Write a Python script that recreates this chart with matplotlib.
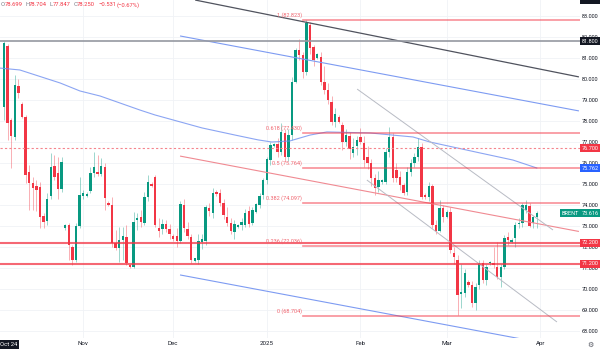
import numpy as np
import matplotlib.pyplot as plt
from matplotlib.transforms import blended_transform_factory

plt.rcParams['font.family'] = ['Roboto', 'DejaVu Sans']

# daily BRENT bars from 7 Oct 2024 to 31 Mar 2025 (short Sunday sessions included)
opens = [78.65, 81.55, 78.05, 77.25, 79.67, 78.81, 78.20, 75.59, 75.06, 74.90,
         74.87, 73.48, 73.25, 74.44, 75.86, 75.51, 74.75, 72.89, 73.05, 71.98,
         71.38, 73.00, 74.44, 74.45, 74.68, 75.51, 75.59, 75.48, 75.83, 74.11,
         74.00, 72.17, 71.95, 72.33, 72.46, 71.14, 71.03, 73.28, 73.45, 73.16,
         74.40, 75.00, 75.35, 72.89, 72.85, 73.10, 72.84, 72.52, 72.52, 72.30,
         74.00, 72.84, 72.46, 71.35, 71.38, 72.25, 72.30, 73.84, 73.63, 74.63,
         74.55, 74.08, 73.41, 73.13, 72.73, 72.95, 73.05, 73.05, 73.73, 73.13,
         73.68, 74.00, 74.48, 75.19, 76.14, 76.81, 76.90, 76.54, 77.41, 76.30,
         77.33, 79.87, 81.38, 81.14, 80.35, 82.57, 81.54, 80.99, 81.06, 79.87,
         79.48, 78.92, 77.97, 78.20, 77.81, 77.02, 77.29, 76.46, 76.81, 77.25,
         76.97, 76.30, 75.98, 75.27, 74.87, 75.10, 75.11, 76.54, 77.25, 75.67,
         75.35, 74.95, 74.63, 75.59, 75.98, 76.30, 76.78, 74.48, 74.40, 74.90,
         73.05, 72.78, 73.84, 73.44, 73.68, 71.70, 71.38, 69.75, 69.79, 70.35,
         70.19, 69.32, 70.19, 71.22, 70.43, 71.22, 71.25, 71.06, 70.59, 71.06,
         72.49, 72.25, 72.41, 73.10, 73.13, 73.76, 73.95, 73.13, 73.44]
highs = [81.80, 81.65, 78.15, 80.19, 79.98, 78.90, 78.30, 75.90, 75.35, 75.20,
         75.10, 73.63, 74.56, 76.46, 76.40, 76.30, 76.30, 73.10, 73.13, 72.10,
         73.13, 75.35, 74.70, 74.60, 75.83, 76.54, 76.38, 76.22, 75.99, 74.20,
         74.40, 72.80, 72.96, 72.96, 73.05, 71.20, 73.68, 73.60, 73.75, 74.60,
         75.43, 75.10, 75.45, 73.40, 73.35, 73.30, 73.10, 72.60, 72.90, 74.20,
         74.30, 73.20, 72.60, 71.50, 72.60, 72.60, 74.00, 74.10, 74.80, 74.70,
         74.75, 74.30, 73.90, 73.40, 73.30, 73.10, 73.40, 73.80, 73.95, 73.90,
         74.10, 74.55, 75.30, 76.30, 77.00, 76.95, 77.20, 77.90, 77.60, 77.60,
         80.10, 81.50, 81.90, 81.30, 82.823, 82.70, 81.60, 81.25, 81.30, 80.60,
         79.80, 79.20, 78.60, 78.30, 77.95, 77.60, 77.50, 77.20, 77.30, 77.65,
         77.30, 76.80, 76.20, 75.50, 75.60, 75.25, 76.70, 77.73, 77.45, 76.00,
         75.60, 75.05, 75.80, 76.20, 76.50, 77.17, 76.95, 74.55, 75.10, 75.00,
         73.30, 74.24, 74.00, 73.75, 73.90, 72.00, 71.60, 71.20, 70.95, 70.45,
         70.40, 70.30, 71.38, 71.40, 71.20, 71.35, 72.00, 72.25, 71.20, 72.55,
         72.70, 72.45, 73.20, 73.40, 74.10, 74.24, 74.10, 73.50, 73.70]
lows = [78.05, 77.10, 75.75, 77.10, 79.08, 78.15, 75.03, 73.76, 73.76, 73.70,
        72.89, 72.89, 73.05, 74.30, 75.20, 74.30, 74.62, 72.80, 71.38, 71.14,
        71.30, 72.90, 74.30, 74.40, 74.55, 75.35, 75.40, 75.40, 73.76, 73.95,
        72.01, 71.86, 71.30, 71.38, 71.14, 70.98, 70.98, 72.80, 72.95, 73.05,
        74.20, 74.85, 72.95, 72.50, 72.60, 72.70, 72.40, 72.30, 72.00, 72.20,
        72.70, 72.40, 71.22, 71.30, 71.20, 71.90, 72.10, 73.50, 73.40, 74.45,
        73.95, 73.35, 73.00, 72.60, 72.40, 72.90, 72.80, 72.95, 72.95, 73.05,
        73.60, 73.85, 74.30, 75.00, 75.90, 76.75, 76.30, 76.40, 76.10, 76.10,
        77.10, 79.80, 80.90, 80.03, 80.20, 81.20, 80.60, 80.95, 79.70, 79.30,
        78.80, 77.80, 77.70, 77.90, 76.60, 76.80, 76.20, 76.30, 76.40, 76.90,
        75.80, 75.70, 74.90, 74.50, 74.60, 75.00, 75.00, 76.30, 75.10, 75.10,
        74.70, 74.50, 74.50, 75.40, 75.80, 76.10, 74.30, 74.30, 74.20, 72.90,
        72.60, 72.70, 73.20, 73.40, 71.70, 71.20, 68.76, 69.10, 69.60, 70.10,
        69.16, 69.00, 70.00, 70.30, 70.20, 71.15, 71.00, 70.50, 70.10, 70.95,
        72.10, 72.20, 72.00, 72.90, 72.95, 73.60, 72.95, 72.90, 72.90]
closes = [81.70, 77.90, 77.28, 79.70, 79.35, 78.20, 75.43, 75.03, 74.79, 74.71,
          73.44, 73.20, 74.27, 75.79, 75.35, 74.75, 76.06, 73.05, 72.09, 71.38,
          73.00, 74.47, 74.55, 74.52, 75.51, 75.83, 75.48, 75.86, 74.32, 74.02,
          72.17, 71.93, 72.33, 72.54, 71.22, 71.03, 73.20, 73.40, 73.20, 74.40,
          75.11, 74.90, 73.05, 72.78, 73.10, 72.85, 72.62, 72.36, 72.30, 74.05,
          72.89, 72.52, 71.38, 71.47, 72.30, 72.36, 73.89, 73.70, 74.59, 74.52,
          74.08, 73.52, 73.13, 72.76, 73.09, 73.03, 73.17, 73.63, 73.09, 73.76,
          74.05, 74.43, 75.19, 76.17, 76.86, 76.90, 76.54, 77.49, 76.30, 77.35,
          79.87, 81.38, 81.14, 80.35, 82.65, 81.46, 80.90, 81.19, 79.87, 79.48,
          79.00, 77.97, 78.33, 77.95, 77.02, 77.33, 76.65, 76.75, 77.10, 77.02,
          76.14, 75.98, 75.27, 74.79, 75.19, 75.19, 76.54, 77.25, 75.27, 75.27,
          74.95, 74.56, 75.59, 75.98, 76.30, 76.78, 74.40, 74.37, 74.90, 73.05,
          72.78, 73.84, 73.45, 73.68, 71.86, 71.54, 69.71, 69.85, 70.75, 70.20,
          69.32, 70.10, 71.22, 70.43, 71.06, 71.30, 71.14, 70.59, 71.06, 72.41,
          72.33, 72.33, 73.05, 73.13, 74.00, 74.00, 73.00, 73.44, 73.616]

# bar index of the first session of each month
month_pos = [22, 47, 73, 99, 123, 149]
month_labels = ["Nov", "Dec", "2025", "Feb", "Mar", "Apr"]
price_ticks = list(range(68, 84))

fib_ratios = ["1", "0.618", "0.5", "0.382", "0.236", "0"]
fib_prices = [82.823, 77.430, 75.764, 74.097, 72.036, 68.704]
fib_start = 83

support_levels = [72.2, 71.2]
dashed_level = 76.7
resistance_level = 81.8
last_price = 73.616

# 200-day moving average, sampled along its path
ma_idx = [-1.1, 4.4, 15.6, 21.1, 26.7, 37.8, 41.9, 55.0, 64.2, 70.6, 74.4, 79.4,
          85.0, 89.7, 101.7, 113.6, 118.3, 132.2, 141.4, 148]
ma_vals = [80.52, 80.43, 79.81, 79.43, 79.19, 78.52, 78.29, 77.67, 77.33, 77.10,
           77.00, 77.05, 77.33, 77.48, 77.43, 77.24, 77.00, 76.48, 76.14, 75.762]

# trend lines: (start idx, start price, end idx, end price)
dark_trend = (53.1, 83.76, 159.7, 80.10)
blue_upper = (48.9, 82.05, 159.7, 78.48)
blue_lower = (48.9, 70.67, 145.3, 67.57)
red_trend = (48.9, 76.33, 159.7, 72.74)
gray_upper = (98.1, 79.52, 152.5, 72.81)
gray_lower = (100.8, 75.19, 153.6, 68.43)

GREEN = "#089981"
RED = "#f23645"

fig = plt.figure(figsize=(6, 3.49), dpi=100)
ax = fig.add_axes([0, 11 / 349, 580 / 600, 338 / 349])
ax.set_xlim(-1.11, 160)
ax.set_ylim(67.667, 83.762)
for s in ax.spines.values():
    s.set_visible(False)

# grid
for p in price_ticks:
    ax.axhline(p, color="#f0f2f6", lw=0.6, zorder=0)
for m in month_pos:
    ax.axvline(m, color="#f0f2f6", lw=0.6, zorder=0)

# candles
o = np.array(opens)
h = np.array(highs)
l = np.array(lows)
c = np.array(closes)
x = np.arange(len(o))
cols = np.where(c >= o, GREEN, RED)
ax.vlines(x, l, h, colors=cols, lw=0.7, alpha=0.4, zorder=2)
body = np.maximum(np.abs(c - o), 0.04)
ax.bar(x, body, bottom=np.minimum(o, c), width=0.62, color=cols, lw=0, zorder=3)

# moving average and trend lines
ax.plot(ma_idx, ma_vals, color="#6f8ff0", lw=0.8, alpha=0.8, zorder=4)
for ln, col, lw in [(dark_trend, "#50535e", 0.9), (blue_upper, "#7d9bf2", 0.8),
                    (blue_lower, "#7d9bf2", 0.8), (red_trend, "#f08a92", 0.8),
                    (gray_upper, "#b8bbc4", 0.7), (gray_lower, "#b8bbc4", 0.7)]:
    ax.plot([ln[0], ln[2]], [ln[1], ln[3]], color=col, lw=lw, zorder=4,
            solid_capstyle="butt")

# horizontal levels
ax.axhline(resistance_level, color="#9598a1", lw=1.2, zorder=4)
ax.axhline(dashed_level, color="#f5848d", lw=0.8, ls=(0, (2, 2)), zorder=4)
for lvl in support_levels:
    ax.axhline(lvl, color=RED, lw=1.5, alpha=0.75, zorder=4)
for r, p in zip(fib_ratios, fib_prices):
    ax.plot([fib_start, 160], [p, p], color=RED, lw=1.2, alpha=0.55, zorder=4)
    ax.text(fib_start - 0.3, p + 0.1, f"{r} ({p:.3f})", color="#f0646e",
            fontsize=4, ha="right", va="bottom", zorder=5)

# price scale
ax.yaxis.tick_right()
ax.set_yticks(price_ticks)
ax.set_yticklabels([f"{p:.3f}" for p in price_ticks])
ax.tick_params(axis="y", length=0, pad=7.2, labelsize=4, labelcolor="#131722")
for lab in ax.get_yticklabels():
    lab.set_horizontalalignment("center")
ax.set_xticks(month_pos)
ax.set_xticklabels(month_labels)
ax.tick_params(axis="x", length=0, pad=2.5, labelsize=4.4, labelcolor="#131722")

tr = blended_transform_factory(ax.transAxes, ax.transData)
tags = [(resistance_level, "#131722"), (dashed_level, RED),
        (ma_vals[-1], "#2962ff"), (last_price, GREEN),
        (support_levels[0], RED), (support_levels[1], RED)]
for p, col in tags:
    ax.text(1.0175, p, f"{p:.3f}", transform=tr, fontsize=4, color="white",
            ha="center", va="center", zorder=6, clip_on=False,
            bbox=dict(boxstyle="square,pad=0.3", fc=col, ec="none"))
ax.text(0.983, last_price, "BRENT", transform=tr, fontsize=4, color="white",
        ha="center", va="center", zorder=6,
        bbox=dict(boxstyle="square,pad=0.3", fc=GREEN, ec="none"))

# legend line with OHLC values
header = [("O", 1, "#787b86"), ("78.699", 4.5, RED), ("H", 25, "#787b86"),
          ("78.704", 28.5, RED), ("L", 50, "#787b86"), ("77.847", 53, RED),
          ("C", 73.5, "#787b86"), ("78.250", 77, RED), ("\u22120.531", 99, RED),
          ("(\u22120.67%)", 117, RED)]
for txt, px, col in header:
    fig.text(px / 600, 1 - 5 / 349, txt, fontsize=4.2, color=col,
             ha="left", va="center")

fig.text(8.5 / 600, 1 - 344.5 / 349, "Oct 24", fontsize=4.2, color="white",
         ha="center", va="center",
         bbox=dict(boxstyle="square,pad=0.3", fc="#131722", ec="none"))
fig.text(590 / 600, 1 - 345 / 349, "\u2699", fontsize=5, color="#50535e",
         ha="center", va="center")
fig.patches.append(plt.Rectangle((580 / 600, 1 - 4 / 349), 20 / 600, 4 / 349,
                                 transform=fig.transFigure, fc="#131722", ec="none"))

fig.savefig("out.png", dpi=100)
